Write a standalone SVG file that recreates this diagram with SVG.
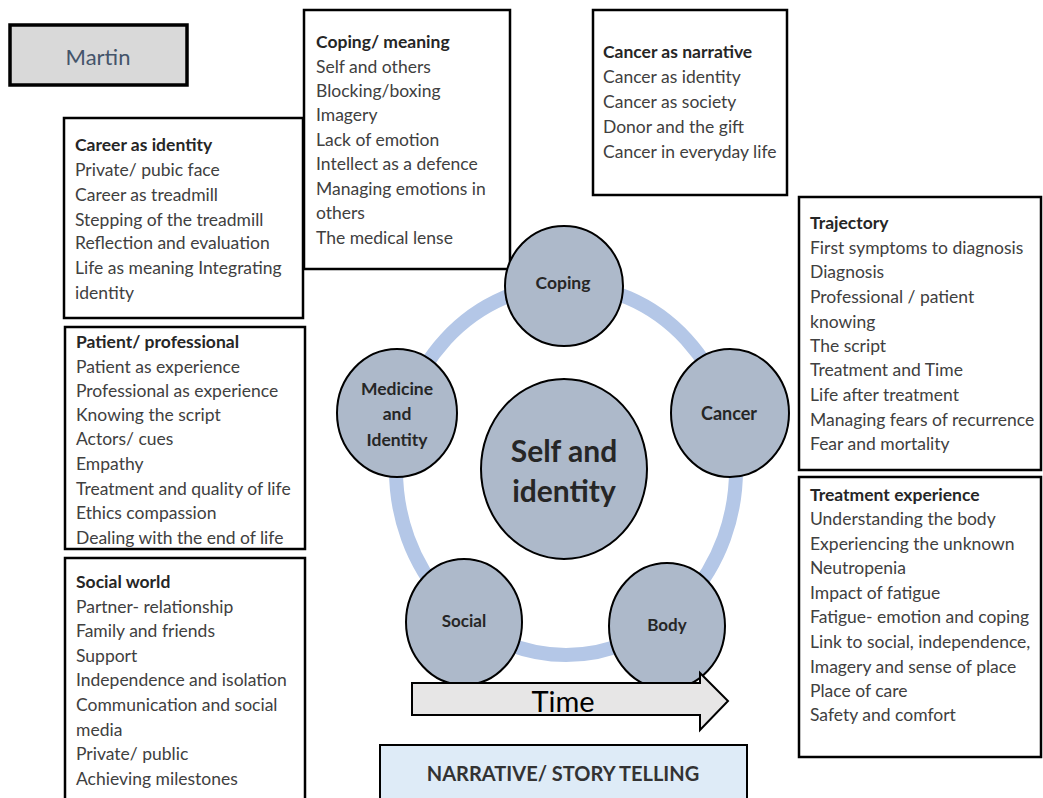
<svg xmlns="http://www.w3.org/2000/svg" width="1043" height="798" viewBox="0 0 1043 798">
<style>
.box{fill:#fff;stroke:#000;stroke-width:2.5}
.h{font-family:Lato,"Liberation Sans",sans-serif;font-size:17.5px;font-weight:bold;fill:#262626}
.t{font-family:Lato,"Liberation Sans",sans-serif;font-size:17.5px;fill:#404040}
.c{fill:#adb9ca;stroke:#000;stroke-width:2}
.cl{font-family:Lato,"Liberation Sans",sans-serif;font-weight:bold;fill:#262626;text-anchor:middle}
</style>
<rect width="1043" height="798" fill="#fff"/>
<g id="martin">
<rect x="10" y="25" width="177" height="60" fill="#d9d9d9" stroke="#000" stroke-width="3.5"/>
<text x="98" y="65" font-family="Lato,'Liberation Sans',sans-serif" font-size="22" fill="#44546a" text-anchor="middle">Martin</text>
</g>
<g id="ring">
<ellipse cx="566" cy="470" rx="170" ry="185" fill="none" stroke="#b4c7e7" stroke-width="14"/>
</g>
<g id="career">
<rect class="box" x="64" y="118" width="239" height="200"/>
<text class="h" x="75" y="151">Career as identity</text>
<text class="t" x="75" y="176">Private/ pubic face</text>
<text class="t" x="75" y="201">Career as treadmill</text>
<text class="t" x="75" y="226">Stepping of the treadmill</text>
<text class="t" x="75" y="249">Reflection and evaluation</text>
<text class="t" x="75" y="274">Life as meaning  Integrating</text>
<text class="t" x="75" y="299">identity</text>
</g>
<g id="patient">
<rect class="box" x="65" y="327" width="240" height="222"/>
<text class="h" x="76" y="348">Patient/ professional</text>
<text class="t" x="76" y="373">Patient as experience</text>
<text class="t" x="76" y="397">Professional as experience</text>
<text class="t" x="76" y="421">Knowing the script</text>
<text class="t" x="76" y="445">Actors/ cues</text>
<text class="t" x="76" y="470">Empathy</text>
<text class="t" x="76" y="495">Treatment and quality of life</text>
<text class="t" x="76" y="519">Ethics compassion</text>
<text class="t" x="76" y="544">Dealing with the end of life</text>
</g>
<g id="social-world">
<rect class="box" x="65" y="558" width="240" height="250"/>
<text class="h" x="76" y="588">Social world</text>
<text class="t" x="76" y="613">Partner- relationship</text>
<text class="t" x="76" y="637">Family and friends</text>
<text class="t" x="76" y="662">Support</text>
<text class="t" x="76" y="686">Independence and isolation</text>
<text class="t" x="76" y="711">Communication and social</text>
<text class="t" x="76" y="736">media</text>
<text class="t" x="76" y="760">Private/ public</text>
<text class="t" x="76" y="785">Achieving milestones</text>
</g>
<g id="coping-box">
<rect class="box" x="304" y="10" width="206" height="259"/>
<text class="h" x="316" y="48">Coping/ meaning</text>
<text class="t" x="316" y="73">Self and others</text>
<text class="t" x="316" y="97">Blocking/boxing</text>
<text class="t" x="316" y="121">Imagery</text>
<text class="t" x="316" y="146">Lack of emotion</text>
<text class="t" x="316" y="170">Intellect as a defence</text>
<text class="t" x="316" y="195">Managing emotions  in</text>
<text class="t" x="316" y="219">others</text>
<text class="t" x="316" y="244">The medical lense</text>
</g>
<g id="cancer-narrative">
<rect class="box" x="593" y="10" width="194" height="185"/>
<text class="h" x="603" y="58">Cancer as narrative</text>
<text class="t" x="603" y="83">Cancer as identity</text>
<text class="t" x="603" y="108">Cancer as society</text>
<text class="t" x="603" y="133">Donor and the gift</text>
<text class="t" x="603" y="158">Cancer in everyday life</text>
</g>
<g id="trajectory">
<rect class="box" x="799" y="197" width="242" height="273"/>
<text class="h" x="810" y="229">Trajectory</text>
<text class="t" x="810" y="254">First symptoms to diagnosis</text>
<text class="t" x="810" y="278">Diagnosis</text>
<text class="t" x="810" y="303">Professional / patient</text>
<text class="t" x="810" y="328">knowing</text>
<text class="t" x="810" y="352">The script</text>
<text class="t" x="810" y="376">Treatment and Time</text>
<text class="t" x="810" y="401">Life after treatment</text>
<text class="t" x="810" y="426">Managing fears of recurrence</text>
<text class="t" x="810" y="450">Fear and mortality</text>
</g>
<g id="treatment">
<rect class="box" x="799" y="477" width="242" height="280"/>
<text class="h" x="810" y="501">Treatment experience</text>
<text class="t" x="810" y="525">Understanding the body</text>
<text class="t" x="810" y="550">Experiencing the unknown</text>
<text class="t" x="810" y="574">Neutropenia</text>
<text class="t" x="810" y="599">Impact of fatigue</text>
<text class="t" x="810" y="623">Fatigue- emotion and coping</text>
<text class="t" x="810" y="648">Link to social, independence,</text>
<text class="t" x="810" y="673">Imagery and sense of place</text>
<text class="t" x="810" y="697">Place of care</text>
<text class="t" x="810" y="721">Safety and comfort</text>
</g>
<g id="connectors"></g>
<g id="coping">
<ellipse class="c" cx="564" cy="286" rx="59" ry="60"/>
<text class="cl" x="563" y="289" font-size="17.5">Coping</text>
</g>
<g id="cancer">
<ellipse class="c" cx="730" cy="413" rx="59" ry="64"/>
<text class="cl" x="729" y="420" font-size="18" font-weight="600">Cancer</text>
</g>
<g id="medicine">
<ellipse class="c" cx="397" cy="413" rx="60" ry="64"/>
<text class="cl" x="397" y="395" font-size="17.5">Medicine</text>
<text class="cl" x="397" y="420" font-size="17.5">and</text>
<text class="cl" x="397" y="446" font-size="17.5">Identity</text>
</g>
<g id="self">
<ellipse class="c" cx="564" cy="469" rx="83" ry="90"/>
<text class="cl" x="564" y="462" font-size="30">Self and</text>
<text class="cl" x="564" y="502" font-size="30">identity</text>
</g>
<g id="social">
<ellipse class="c" cx="464" cy="622" rx="58" ry="63"/>
<text class="cl" x="464" y="627" font-size="17">Social</text>
</g>
<g id="body">
<ellipse class="c" cx="667" cy="626" rx="58" ry="63"/>
<text class="cl" x="667" y="631" font-size="17">Body</text>
</g>
<g id="time">
<path d="M412,683 L700,683 L700,673 L728,701 L700,730 L700,715 L412,715 Z" fill="#e7e6e6" stroke="#000" stroke-width="2"/>
<text x="563" y="712" font-family="Lato,'Liberation Sans',sans-serif" font-size="29" fill="#000" text-anchor="middle">Time</text>
</g>
<g id="narrative">
<rect x="380" y="745" width="367" height="60" fill="#deebf7" stroke="#000" stroke-width="2"/>
<text x="563" y="781" font-family="Lato,'Liberation Sans',sans-serif" font-size="20" font-weight="bold" fill="#333" text-anchor="middle">NARRATIVE/ STORY TELLING</text>
</g>
</svg>
